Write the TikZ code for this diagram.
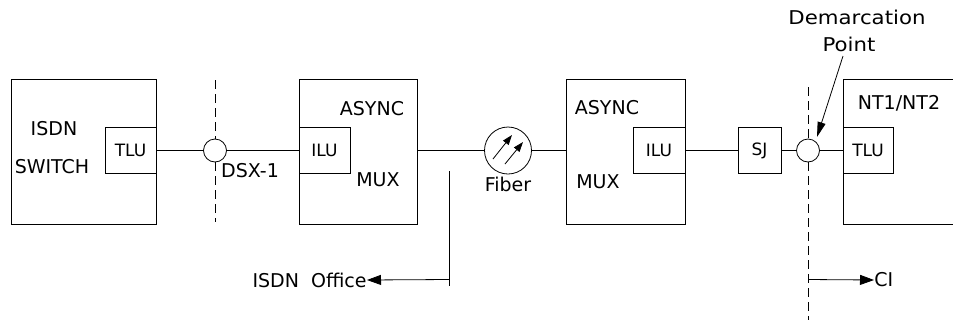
\documentclass[tikz,border=0pt]{standalone}
\usepackage{fontspec}
\setmainfont{DejaVu Sans}
\usetikzlibrary{arrows.meta}
\begin{document}
\begin{tikzpicture}[x=1pt,y=-1pt,
  line width=0.8pt,
  lbl/.style={font=\fontsize{19}{21}\selectfont, inner sep=0pt},
  widelbl/.style={font=\fontsize{19}{21}\selectfont\addfontfeature{FakeStretch=1.12}, inner sep=0pt},
  bigbox/.style={draw, minimum width=#1, minimum height=145pt, inner sep=0pt},
  unit/.style={draw, inner sep=0pt, font=\fontsize{17}{20}\selectfont, minimum height=46pt},
  ring/.style={draw, circle, inner sep=0pt, minimum size=#1},
  dashln/.style={dash pattern=on 9pt off 5pt},
  tri/.style={-{Triangle[length=14pt,width=10pt]}}]
\useasboundingbox (0,0) rectangle (953,325);
% big boxes
\node[bigbox=145pt] (sw) at (83.5,151.5) {};
\node[bigbox=118pt] (mux1) at (358,151.5) {};
\node[bigbox=119pt] (mux2) at (625.5,151.5) {};
\draw (960,79) coordinate (ntTR) -- (843,79) coordinate (ntTL) -- (843,224) coordinate (ntBL) -- (960,224) coordinate (ntBR);
% inner units
\node[unit, minimum width=51pt] (tlu1) at (130.5,150.5) {TLU};
\node[unit, minimum width=51pt] (ilu1) at (324.5,150.5) {ILU};
\node[unit, minimum width=52pt] (ilu2) at (659,150.5) {ILU};
\node[unit, minimum width=43pt] (sj) at (759.5,150.5) {SJ};
\node[unit, minimum width=50pt] (tlu2) at (868,150.5) {TLU};
% labels in boxes
\node[lbl] (isdn) at (54,129) {ISDN};
\node[lbl] (switch) at (52,167) {SWITCH};
\node[lbl] (async1) at (372,109) {ASYNC};
\node[lbl] (muxt1) at (378,180) {MUX};
\node[lbl] (async2) at (607,108) {ASYNC};
\node[lbl] (muxt2) at (598,182) {MUX};
\node[lbl] (nt) at (899,103) {NT1/NT2};
% circles
\node[ring=23pt] (dsx) at (215,150.5) {};
\node[ring=47pt] (fiber) at (508,150.5) {};
\node[ring=23pt] (demarc) at (808,150.5) {};
\node[lbl] (dsxl) at (250,171) {DSX-1};
\node[lbl] (fiberl) at (508,184) {Fiber};
\node[widelbl] (dem1) at (857,17) {Demarcation};
\node[widelbl] (dem2) at (849,44) {Point};
% fiber arrows
\coordinate (fa1s) at (493,159); \coordinate (fa1e) at (512,135);
\coordinate (fa2s) at (505,164); \coordinate (fa2e) at (523,142);
\draw[-{Triangle[length=10pt,width=7pt]}] (fa1s) -- (fa1e);
\draw[-{Triangle[length=10pt,width=7pt]}] (fa2s) -- (fa2e);
% main line connectors
\draw (tlu1.east) -- (dsx.west);
\draw (dsx.east) -- (ilu1.west);
\draw (mux1.east |- fiber.west) -- (fiber.west);
\draw (fiber.east) -- (mux2.west |- fiber.east);
\draw (ilu2.east) -- (sj.west);
\draw (sj.east) -- (demarc.west);
\draw (demarc.east) -- (tlu2.west);
% dashed boundaries
\coordinate (d1t) at (215,80); \coordinate (d1b) at (215,222);
\draw[dashln] (d1t) -- (dsx.north);
\draw[dashln] (dsx.south) -- (d1b);
\coordinate (d2t) at (808,87); \coordinate (d2b) at (808,320);
\draw[dashln] (d2t) -- (demarc.north);
\draw[dashln] (demarc.south) -- (d2b);
% demarcation arrow
\coordinate (dpa) at (843,56);
\draw[-{Triangle[length=15pt,width=8pt]}] (dpa) -- (817,137);
% ISDN office
\coordinate (vt) at (449,171); \coordinate (vb) at (449,286); \coordinate (vj) at (449,279.5);
\draw (vt) -- (vb);
\node[lbl, anchor=east] (office) at (367,280) {ISDN\ \ Office};
\draw[tri] (vj) -- (office.east);
% CI
\coordinate (cj) at (808,279.5);
\node[lbl, anchor=west] (ci) at (874,280) {CI};
\draw[tri] (cj) -- (ci.west);
\end{tikzpicture}
\end{document}
